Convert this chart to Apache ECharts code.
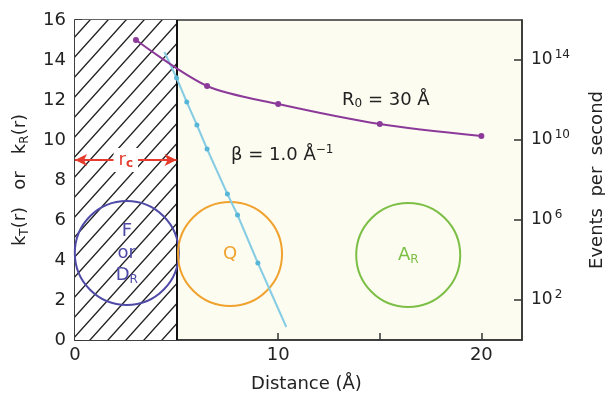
<!DOCTYPE html>
<html>
<head>
<meta charset="utf-8">
<script src="https://cdn.jsdelivr.net/npm/echarts@6/dist/echarts.min.js"></script>
<style>
html,body{margin:0;padding:0;background:#fff;}
#c{width:605px;height:394px;}
</style>
</head>
<body>
<div id="c"></div>
<script>
// ---- data ----
const purpleX = [3.0, 6.5, 10.0, 15.0, 20.0];
const purpleY = [15.0, 12.7, 11.8, 10.8, 10.2];
const blueX = [4.4, 5.0, 5.5, 6.0, 6.5, 7.5, 8.0, 9.0, 10.4];
const blueY = [14.4, 13.1, 11.9, 10.75, 9.55, 7.3, 6.25, 3.85, 0.65];
const blueDotShown = [false, true, true, true, true, true, true, true, false];
const circleX = [2.55, 7.63, 16.4];
const circleY = [4.35, 4.3, 4.25];
const circleText = ['{t|F}\n{t|or}\n{t|D}{s|R}', '{t|Q}', '{t|A}{s|R}'];
const circleColors = ['#4e4aa6', '#f0a22e', '#7cbf45'];
const hatchRange = [0, 5];
const rcY = 9.0;
const leftTicks = [0, 2, 4, 6, 8, 10, 12, 14, 16];
const xLabelTicks = [0, 10, 20];
const xMinorTicks = [5, 10, 15, 20];
const rightExponents = [2, 6, 10, 14];
const annoX = [15.3, 10.2];
const annoY = [12.0, 9.25];
const annoText = ['{t|R}{s|0}{t| = 30 Å}', '{t|β = 1.0 Å}{p|−1}'];

// hatch pattern
const pat = document.createElement('canvas');
pat.width = 18; pat.height = 20;
const ctx = pat.getContext('2d');
ctx.fillStyle = '#ffffff';
ctx.fillRect(0, 0, 18, 20);
ctx.strokeStyle = '#222';
ctx.lineWidth = 1.4;
ctx.beginPath();
ctx.moveTo(-1.8, 22); ctx.lineTo(19.8, -2);
ctx.moveTo(-1.8, 2); ctx.lineTo(1.8, -2);
ctx.moveTo(16.2, 22); ctx.lineTo(19.8, 18);
ctx.stroke();

const FONT = 'DejaVu Sans';
const ink = '#222';

const chart = echarts.init(document.getElementById('c'), null, {renderer: 'canvas'});
chart.setOption({
  animation: false,
  backgroundColor: '#ffffff',
  textStyle: {fontFamily: FONT},
  grid: {left: 75, right: 83, top: 20, bottom: 54, show: true, containLabel: false,
         outerBoundsMode: 'none',
         backgroundColor: '#fdfcf1', borderColor: '#333', borderWidth: 1.5},
  xAxis: {
    type: 'value', min: 0, max: 22,
    name: 'Distance (Å)', nameLocation: 'middle', nameGap: 35,
    nameTextStyle: {fontSize: 18, color: ink, fontFamily: FONT, padding: [0, 0, 0, 16]},
    axisLine: {show: true, lineStyle: {color: '#333', width: 1.5}},
    axisTick: {show: true, inside: true, length: 7, customValues: xMinorTicks, lineStyle: {color: '#333', width: 1.5}},
    axisLabel: {customValues: xLabelTicks, fontSize: 18, color: ink, margin: 6, fontFamily: FONT},
    splitLine: {show: false}
  },
  yAxis: [{
    type: 'value', min: 0, max: 16, position: 'left',
    name: '{t|k}{s|T}{t|(r)   or   k}{s|R}{t|(r)}', nameLocation: 'middle', nameGap: 44, nameRotate: 90,
    nameTextStyle: {rich: {
      t: {fontSize: 18, color: ink, fontFamily: FONT},
      s: {fontSize: 12, color: ink, fontFamily: FONT, padding: [10, 0, 0, 0]}
    }},
    axisLine: {show: true, lineStyle: {color: '#333', width: 1.5}},
    axisTick: {show: true, inside: true, length: 7, customValues: leftTicks, lineStyle: {color: '#333', width: 1.5}},
    axisLabel: {customValues: leftTicks, fontSize: 18, color: ink, margin: 9, fontFamily: FONT},
    splitLine: {show: false}
  }, {
    type: 'value', min: 0, max: 16, position: 'right',
    name: 'Events  per  second', nameLocation: 'middle', nameGap: 66, nameRotate: 90,
    nameTextStyle: {fontSize: 18, color: ink, fontFamily: FONT},
    axisLine: {show: true, lineStyle: {color: '#333', width: 1.5}},
    axisTick: {show: true, inside: true, length: 8, customValues: rightExponents, lineStyle: {color: '#333', width: 1.5}},
    axisLabel: {customValues: rightExponents, margin: 9,
      formatter: v => '{b|10}{p|' + v + '}',
      rich: {
        b: {fontSize: 17, color: ink, fontFamily: FONT},
        p: {fontSize: 12, color: ink, fontFamily: FONT, padding: [0, 0, 10, 2]}
      }},
    splitLine: {show: false}
  }],
  series: [
    {
      name: 'hatch', type: 'line', data: [], z: 1, silent: true,
      markArea: {silent: true,
        itemStyle: {color: {image: pat, repeat: 'repeat'}, opacity: 1},
        data: [[{xAxis: hatchRange[0], yAxis: 0}, {xAxis: hatchRange[1], yAxis: 16}]]}
    },
    {
      name: 'boundary', type: 'line', data: [], z: 3, silent: true,
      markLine: {silent: true, symbol: ['none', 'none'], animation: false,
        label: {show: false},
        lineStyle: {color: '#111', width: 2, type: 'solid'},
        data: [{xAxis: hatchRange[1]}]}
    },
    {
      name: 'rc', type: 'line', data: [], z: 4, silent: true,
      markLine: {silent: true, symbol: ['arrow', 'arrow'], symbolSize: [9, 12],
        lineStyle: {color: '#e53b2c', width: 2, type: 'solid'},
        label: {show: true, position: 'insideMiddle', formatter: '{r|r}{c|c}',
          backgroundColor: '#ffffff', padding: [2, 5, 2, 5],
          rich: {
            r: {fontSize: 18, color: '#e53b2c', fontFamily: FONT},
            c: {fontSize: 12, color: '#e53b2c', fontFamily: FONT, fontWeight: 'bold', padding: [8, 0, 0, 0]}
          }},
        data: [[{coord: [hatchRange[0], rcY]}, {coord: [hatchRange[1], rcY]}]]}
    },
    {
      name: 'circles', type: 'scatter', z: 5, symbol: 'circle', symbolSize: 104,
      data: circleX.map((x, i) => ({
        value: [x, circleY[i]],
        itemStyle: {color: 'rgba(0,0,0,0)', borderColor: circleColors[i], borderWidth: 2, opacity: 1},
        label: {show: true, position: 'inside', formatter: circleText[i], lineHeight: 22, opacity: 1,
          rich: {
            t: {fontSize: 18, color: circleColors[i], fontFamily: FONT, lineHeight: 22},
            s: {fontSize: 12, color: circleColors[i], fontFamily: FONT, padding: [9, 0, 0, 0]}
          }}
      }))
    },
    {
      name: 'beta', type: 'line', z: 6, smooth: false,
      lineStyle: {color: '#86cde3', width: 2},
      itemStyle: {color: '#58b6d9'},
      symbol: 'circle', symbolSize: 5,
      data: blueX.map((x, i) => ({value: [x, blueY[i]], symbol: blueDotShown[i] ? 'circle' : 'none'}))
    },
    {
      name: 'R0', type: 'line', z: 7, smooth: 0.3,
      lineStyle: {color: '#8b3a9a', width: 2},
      itemStyle: {color: '#8b3a9a'},
      symbol: 'circle', symbolSize: 6,
      data: purpleX.map((x, i) => [x, purpleY[i]])
    },
    {
      name: 'annotations', type: 'scatter', z: 8, symbolSize: 0,
      itemStyle: {opacity: 1},
      data: annoX.map((x, i) => ({
        value: [x, annoY[i]],
        label: {show: true, position: 'inside', formatter: annoText[i], opacity: 1,
          rich: {
            t: {fontSize: 18, color: ink, fontFamily: FONT},
            s: {fontSize: 12, color: ink, fontFamily: FONT, padding: [8, 0, 0, 0]},
            p: {fontSize: 12, color: ink, fontFamily: FONT, padding: [0, 0, 10, 0]}
          }}
      }))
    }
  ]
});
</script>
</body>
</html>
